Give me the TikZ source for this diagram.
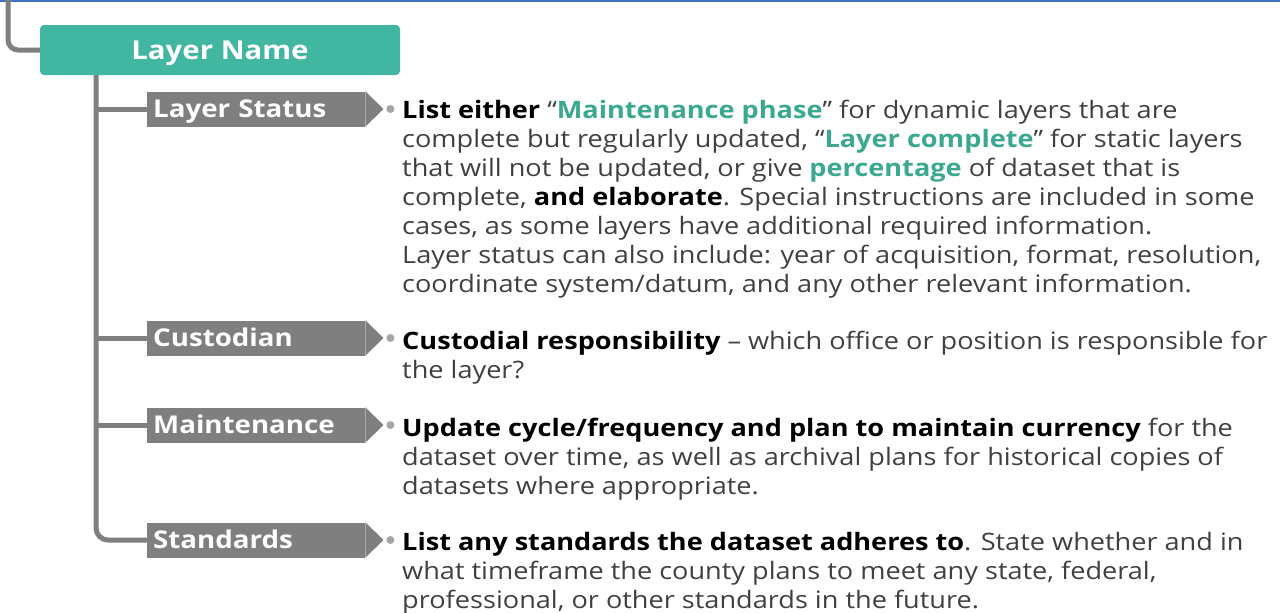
\documentclass[tikz,border=0pt]{standalone}
\usepackage{fontspec}
\setmainfont[FakeStretch=1.13]{Open Sans}
\usetikzlibrary{positioning}
\definecolor{boxteal}{HTML}{41B6A0}
\definecolor{hlteal}{HTML}{3AA98F}
\definecolor{taggray}{HTML}{7F7F7F}
\definecolor{dotgray}{HTML}{A6A6A6}
\definecolor{bodytext}{HTML}{404040}
\definecolor{topline}{HTML}{4472C4}
\newcommand{\hl}[1]{\textcolor{hlteal}{\textbf{#1}}}
\newcommand{\kw}[1]{\textcolor{black}{\textbf{#1}}}

\begin{document}
\begin{tikzpicture}[x=1pt,y=-1pt,
    branch/.style={draw=taggray, line width=5pt},
    body/.style={anchor=base west, align=left, inner sep=0pt, text=bodytext,
      font=\fontsize{24}{29}\selectfont}]

    \useasboundingbox (0,0) rectangle (1280,613);
    \fill[topline] (0,0) rectangle (1280,2);

    \node[fill=boxteal, rounded corners=4pt, minimum width=360pt, minimum height=50pt,
      text height=18.5pt, text depth=0pt,
      text=white, font=\fontsize{26}{30}\selectfont\bfseries] (ln) at (220,50) {Layer Name};

    \begin{scope}[every node/.style={fill=taggray, text=white, anchor=west, minimum height=35pt,
        inner xsep=6pt, inner ysep=0pt, text width=206pt, text height=17.5pt, text depth=0pt,
        align=left, font=\fontsize{24.5}{28}\selectfont\bfseries}]
        \node (ls) at (147,109) {Layer Status};
        \node (cu) at (147,338) {Custodian};
        \node (mt) at (147,425) {Maintenance};
        \node (st) at (147,540) {Standards};
    \end{scope}
    \foreach \n in {ls,cu,mt,st} {
        \fill[taggray] (\n.north east) -- ([xshift=18pt]\n.east) -- (\n.south east) -- cycle;
        \fill[dotgray] ([xshift=25pt]\n.east) circle (4pt);
    }

    \draw[branch, rounded corners=10pt] (8,0) |- (ln.west);
    \coordinate (trunk) at (96,75);
    \draw[branch, rounded corners=12pt] (trunk) |- (st.west);
    \foreach \n in {ls,cu,mt} \draw[branch] (trunk |- \n.west) -- (\n.west);

    % base anchor = baseline of the last line
    \node[body] (ls-text) at (402,292) {\kw{List either} “\hl{Maintenance phase}” for dynamic layers that are\\
        complete but regularly updated, “\hl{Layer complete}” for static layers\\
        that will not be updated, or give \hl{percentage} of dataset that is\\
        complete, \kw{and elaborate}. Special instructions are included in some\\
        cases, as some layers have additional required information.\\
        Layer status can also include: year of acquisition, format, resolution,\\
        coordinate system/datum, and any other relevant information.};
    \node[body] (cu-text) at (402,378) {\kw{Custodial responsibility} -- which office or position is responsible for\\
        the layer?};
    \node[body] (mt-text) at (402,494) {\kw{Update cycle/frequency and plan to maintain currency} for the\\
        dataset over time, as well as archival plans for historical copies of\\
        datasets where appropriate.};
    \node[body] (st-text) at (402,608) {\kw{List any standards the dataset adheres to}. State whether and in\\
        what timeframe the county plans to meet any state, federal,\\
        professional, or other standards in the future.};
\end{tikzpicture}
\end{document}
